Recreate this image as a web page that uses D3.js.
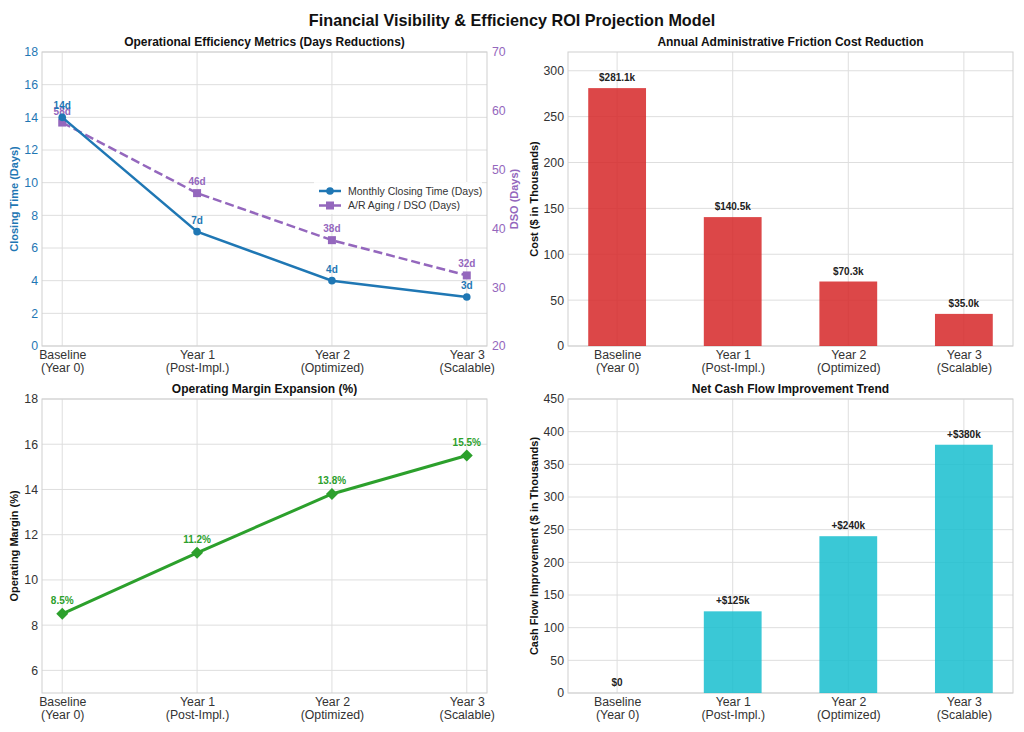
<!DOCTYPE html>
<html>
<head>
<meta charset="utf-8">
<title>Financial Visibility & Efficiency ROI Projection Model</title>
<script src="https://d3js.org/d3.v7.min.js"></script>
<style>
  * { margin: 0; padding: 0; }
  body { background: #fff; font-family: "Liberation Sans", Arial, sans-serif; }
  .tick text { font-family: "Liberation Sans", Arial, sans-serif; }
</style>
</head>
<body>
<div id="chart"></div>
<script>
// data
const categories = ["Baseline\n(Year 0)", "Year 1\n(Post-Impl.)", "Year 2\n(Optimized)", "Year 3\n(Scalable)"];
const closingDays = [14, 7, 4, 3];
const dsoDays = [58, 46, 38, 32];
const frictionCost = [281.1, 140.5, 70.3, 35.0];
const operatingMargin = [8.5, 11.2, 13.8, 15.5];
const cashFlow = [0, 125, 240, 380];

const closingTicks = d3.range(0, 19, 2);
const dsoTicks = d3.range(20, 71, 10);
const costTicks = d3.range(0, 301, 50);
const marginTicks = d3.range(6, 19, 2);
const cashTicks = d3.range(0, 451, 50);

const W = 1024, H = 732;
const BLUE = "#1f77b4", PURPLE = "#9467bd", RED = "#d62728", GREEN = "#2ca02c", CYAN = "#17becf";
const TXT = "#333";

const svg = d3.select("#chart").append("svg")
  .attr("width", W).attr("height", H)
  .style("font-family", "'Liberation Sans', Arial, sans-serif");

svg.append("text")
  .attr("x", W / 2).attr("y", 26)
  .attr("text-anchor", "middle")
  .attr("font-size", 16.2).attr("font-weight", "bold").attr("fill", "#111")
  .text("Financial Visibility & Efficiency ROI Projection Model");

const panels = {
  tl: {x0: 42, x1: 487, y0: 52, y1: 346},
  tr: {x0: 568, x1: 1013, y0: 52, y1: 346},
  bl: {x0: 42, x1: 487, y0: 399, y1: 693},
  br: {x0: 568, x1: 1013, y0: 399, y1: 693}
};

function frame(p, title, x, y, yTicks, yColor) {
  const g = svg.append("g");
  // grid
  g.selectAll(".hg").data(yTicks).enter().append("line")
    .attr("x1", p.x0).attr("x2", p.x1)
    .attr("y1", d => y(d)).attr("y2", d => y(d))
    .attr("stroke", "#dedede").attr("stroke-width", 1);
  g.selectAll(".vg").data(d3.range(categories.length)).enter().append("line")
    .attr("x1", d => x(d)).attr("x2", d => x(d))
    .attr("y1", p.y0).attr("y2", p.y1)
    .attr("stroke", "#dedede").attr("stroke-width", 1);
  g.append("rect")
    .attr("x", p.x0).attr("y", p.y0)
    .attr("width", p.x1 - p.x0).attr("height", p.y1 - p.y0)
    .attr("fill", "none").attr("stroke", "#cfcfcf").attr("stroke-width", 1);

  // y axis
  const ya = svg.append("g").attr("transform", `translate(${p.x0},0)`)
    .call(d3.axisLeft(y).tickValues(yTicks).tickSize(0).tickPadding(4).tickFormat(d3.format("d")));
  ya.select(".domain").remove();
  ya.selectAll("text").attr("font-size", 12.3).attr("fill", yColor || TXT);

  // x axis with two-line labels
  const xa = svg.append("g").attr("transform", `translate(0,${p.y1})`)
    .call(d3.axisBottom(x).tickValues(d3.range(categories.length)).tickSize(0).tickPadding(4));
  xa.select(".domain").remove();
  xa.selectAll(".tick text").each(function (d) {
    const t = d3.select(this).attr("font-size", 12.3).attr("fill", TXT);
    t.text(null);
    categories[d].split("\n").forEach((line, i) => {
      t.append("tspan").attr("x", 0).attr("dy", i ? "1.1em" : "0.71em").text(line);
    });
  });

  svg.append("text")
    .attr("x", (p.x0 + p.x1) / 2).attr("y", p.y0 - 6)
    .attr("text-anchor", "middle")
    .attr("font-size", 12).attr("font-weight", "bold").attr("fill", "#111")
    .text(title);
  return g;
}

function yLabel(x, yc, text, color) {
  svg.append("text")
    .attr("transform", `translate(${x},${yc}) rotate(-90)`)
    .attr("text-anchor", "middle")
    .attr("font-size", 11).attr("font-weight", "bold").attr("fill", color)
    .text(text);
}

const lineX = p => d3.scaleLinear().domain([-0.15, 3.15]).range([p.x0, p.x1]);
const barX = p => d3.scaleLinear().domain([-0.425, 3.425]).range([p.x0, p.x1]);
const idx = d3.range(categories.length);

// ---- top-left: closing time & DSO ----
{
  const p = panels.tl;
  const x = lineX(p);
  const y = d3.scaleLinear().domain([0, 18]).range([p.y1, p.y0]);
  const y2 = d3.scaleLinear().domain([20, 70]).range([p.y1, p.y0]);
  frame(p, "Operational Efficiency Metrics (Days Reductions)", x, y, closingTicks, BLUE);

  const ra = svg.append("g").attr("transform", `translate(${p.x1},0)`)
    .call(d3.axisRight(y2).tickValues(dsoTicks).tickSize(0).tickPadding(5));
  ra.select(".domain").remove();
  ra.selectAll("text").attr("font-size", 12.3).attr("fill", PURPLE);

  yLabel(18, (p.y0 + p.y1) / 2, "Closing Time (Days)", BLUE);
  yLabel(518, (p.y0 + p.y1) / 2, "DSO (Days)", PURPLE);

  // DSO dashed
  svg.append("path").datum(idx)
    .attr("d", d3.line().x(i => x(i)).y(i => y2(dsoDays[i])))
    .attr("fill", "none").attr("stroke", PURPLE).attr("stroke-width", 2.5)
    .attr("stroke-dasharray", "9,4");
  svg.selectAll(".sq").data(idx).enter().append("rect")
    .attr("x", i => x(i) - 4).attr("y", i => y2(dsoDays[i]) - 4)
    .attr("width", 8).attr("height", 8).attr("fill", PURPLE);
  svg.selectAll(".dsol").data(idx).enter().append("text")
    .attr("x", i => x(i)).attr("y", i => y2(dsoDays[i]) - 8)
    .attr("text-anchor", "middle").attr("font-size", 10).attr("font-weight", "bold")
    .attr("fill", PURPLE).text(i => dsoDays[i] + "d");

  // closing time
  svg.append("path").datum(idx)
    .attr("d", d3.line().x(i => x(i)).y(i => y(closingDays[i])))
    .attr("fill", "none").attr("stroke", BLUE).attr("stroke-width", 2.5);
  svg.selectAll(".cir").data(idx).enter().append("circle")
    .attr("cx", i => x(i)).attr("cy", i => y(closingDays[i]))
    .attr("r", 3.8).attr("fill", BLUE);
  svg.selectAll(".cl").data(idx).enter().append("text")
    .attr("x", i => x(i)).attr("y", i => y(closingDays[i]) - 8)
    .attr("text-anchor", "middle").attr("font-size", 10).attr("font-weight", "bold")
    .attr("fill", BLUE).text(i => closingDays[i] + "d");

  // legend
  const lg = svg.append("g");
  lg.append("rect").attr("x", 314).attr("y", 182).attr("width", 168).attr("height", 32)
    .attr("fill", "#fff").attr("fill-opacity", 0.85);
  lg.append("line").attr("x1", 319).attr("x2", 341).attr("y1", 191).attr("y2", 191)
    .attr("stroke", BLUE).attr("stroke-width", 2.5);
  lg.append("circle").attr("cx", 330).attr("cy", 191).attr("r", 3.8).attr("fill", BLUE);
  lg.append("line").attr("x1", 319).attr("x2", 341).attr("y1", 205.5).attr("y2", 205.5)
    .attr("stroke", PURPLE).attr("stroke-width", 2.5).attr("stroke-dasharray", "9,4");
  lg.append("rect").attr("x", 326).attr("y", 201.5).attr("width", 8).attr("height", 8).attr("fill", PURPLE);
  lg.append("text").attr("x", 348).attr("y", 194.5).attr("font-size", 10.5).attr("fill", TXT)
    .text("Monthly Closing Time (Days)");
  lg.append("text").attr("x", 348).attr("y", 209).attr("font-size", 10.5).attr("fill", TXT)
    .text("A/R Aging / DSO (Days)");
}

// ---- top-right: friction cost bars ----
{
  const p = panels.tr;
  const x = barX(p);
  const y = d3.scaleLinear().domain([0, 281.1 * 1.14]).range([p.y1, p.y0]);
  frame(p, "Annual Administrative Friction Cost Reduction", x, y, costTicks);
  yLabel(538, (p.y0 + p.y1) / 2, "Cost ($ in Thousands)", "#111");
  const bw = x(0.25) - x(-0.25);
  svg.selectAll(".rb").data(idx).enter().append("rect")
    .attr("x", i => x(i) - bw / 2).attr("y", i => y(frictionCost[i]))
    .attr("width", bw).attr("height", i => p.y1 - y(frictionCost[i]))
    .attr("fill", RED).attr("fill-opacity", 0.85);
  svg.selectAll(".rl").data(idx).enter().append("text")
    .attr("x", i => x(i)).attr("y", i => y(frictionCost[i]) - 7)
    .attr("text-anchor", "middle").attr("font-size", 10).attr("font-weight", "bold")
    .attr("fill", "#222").text(i => "$" + frictionCost[i].toFixed(1) + "k");
}

// ---- bottom-left: operating margin ----
{
  const p = panels.bl;
  const x = lineX(p);
  const y = d3.scaleLinear().domain([5, 18]).range([p.y1, p.y0]);
  frame(p, "Operating Margin Expansion (%)", x, y, marginTicks);
  yLabel(18, (p.y0 + p.y1) / 2, "Operating Margin (%)", "#111");
  svg.append("path").datum(idx)
    .attr("d", d3.line().x(i => x(i)).y(i => y(operatingMargin[i])))
    .attr("fill", "none").attr("stroke", GREEN).attr("stroke-width", 3);
  svg.selectAll(".dm").data(idx).enter().append("path")
    .attr("transform", i => `translate(${x(i)},${y(operatingMargin[i])})`)
    .attr("d", "M0,-6L6,0L0,6L-6,0Z").attr("fill", GREEN);
  svg.selectAll(".ml").data(idx).enter().append("text")
    .attr("x", i => x(i)).attr("y", i => y(operatingMargin[i]) - 10)
    .attr("text-anchor", "middle").attr("font-size", 10).attr("font-weight", "bold")
    .attr("fill", GREEN).text(i => operatingMargin[i].toFixed(1) + "%");
}

// ---- bottom-right: cash flow bars ----
{
  const p = panels.br;
  const x = barX(p);
  const y = d3.scaleLinear().domain([0, 450]).range([p.y1, p.y0]);
  frame(p, "Net Cash Flow Improvement Trend", x, y, cashTicks);
  yLabel(538, (p.y0 + p.y1) / 2, "Cash Flow Improvement ($ in Thousands)", "#111");
  const bw = x(0.25) - x(-0.25);
  svg.selectAll(".cb").data(idx).enter().append("rect")
    .attr("x", i => x(i) - bw / 2).attr("y", i => y(cashFlow[i]))
    .attr("width", bw).attr("height", i => p.y1 - y(cashFlow[i]))
    .attr("fill", CYAN).attr("fill-opacity", 0.85);
  svg.selectAll(".cfl").data(idx).enter().append("text")
    .attr("x", i => x(i)).attr("y", i => y(cashFlow[i]) - 7)
    .attr("text-anchor", "middle").attr("font-size", 10).attr("font-weight", "bold")
    .attr("fill", "#222").text(i => cashFlow[i] > 0 ? "+$" + cashFlow[i] + "k" : "$0");
}
</script>
</body>
</html>
